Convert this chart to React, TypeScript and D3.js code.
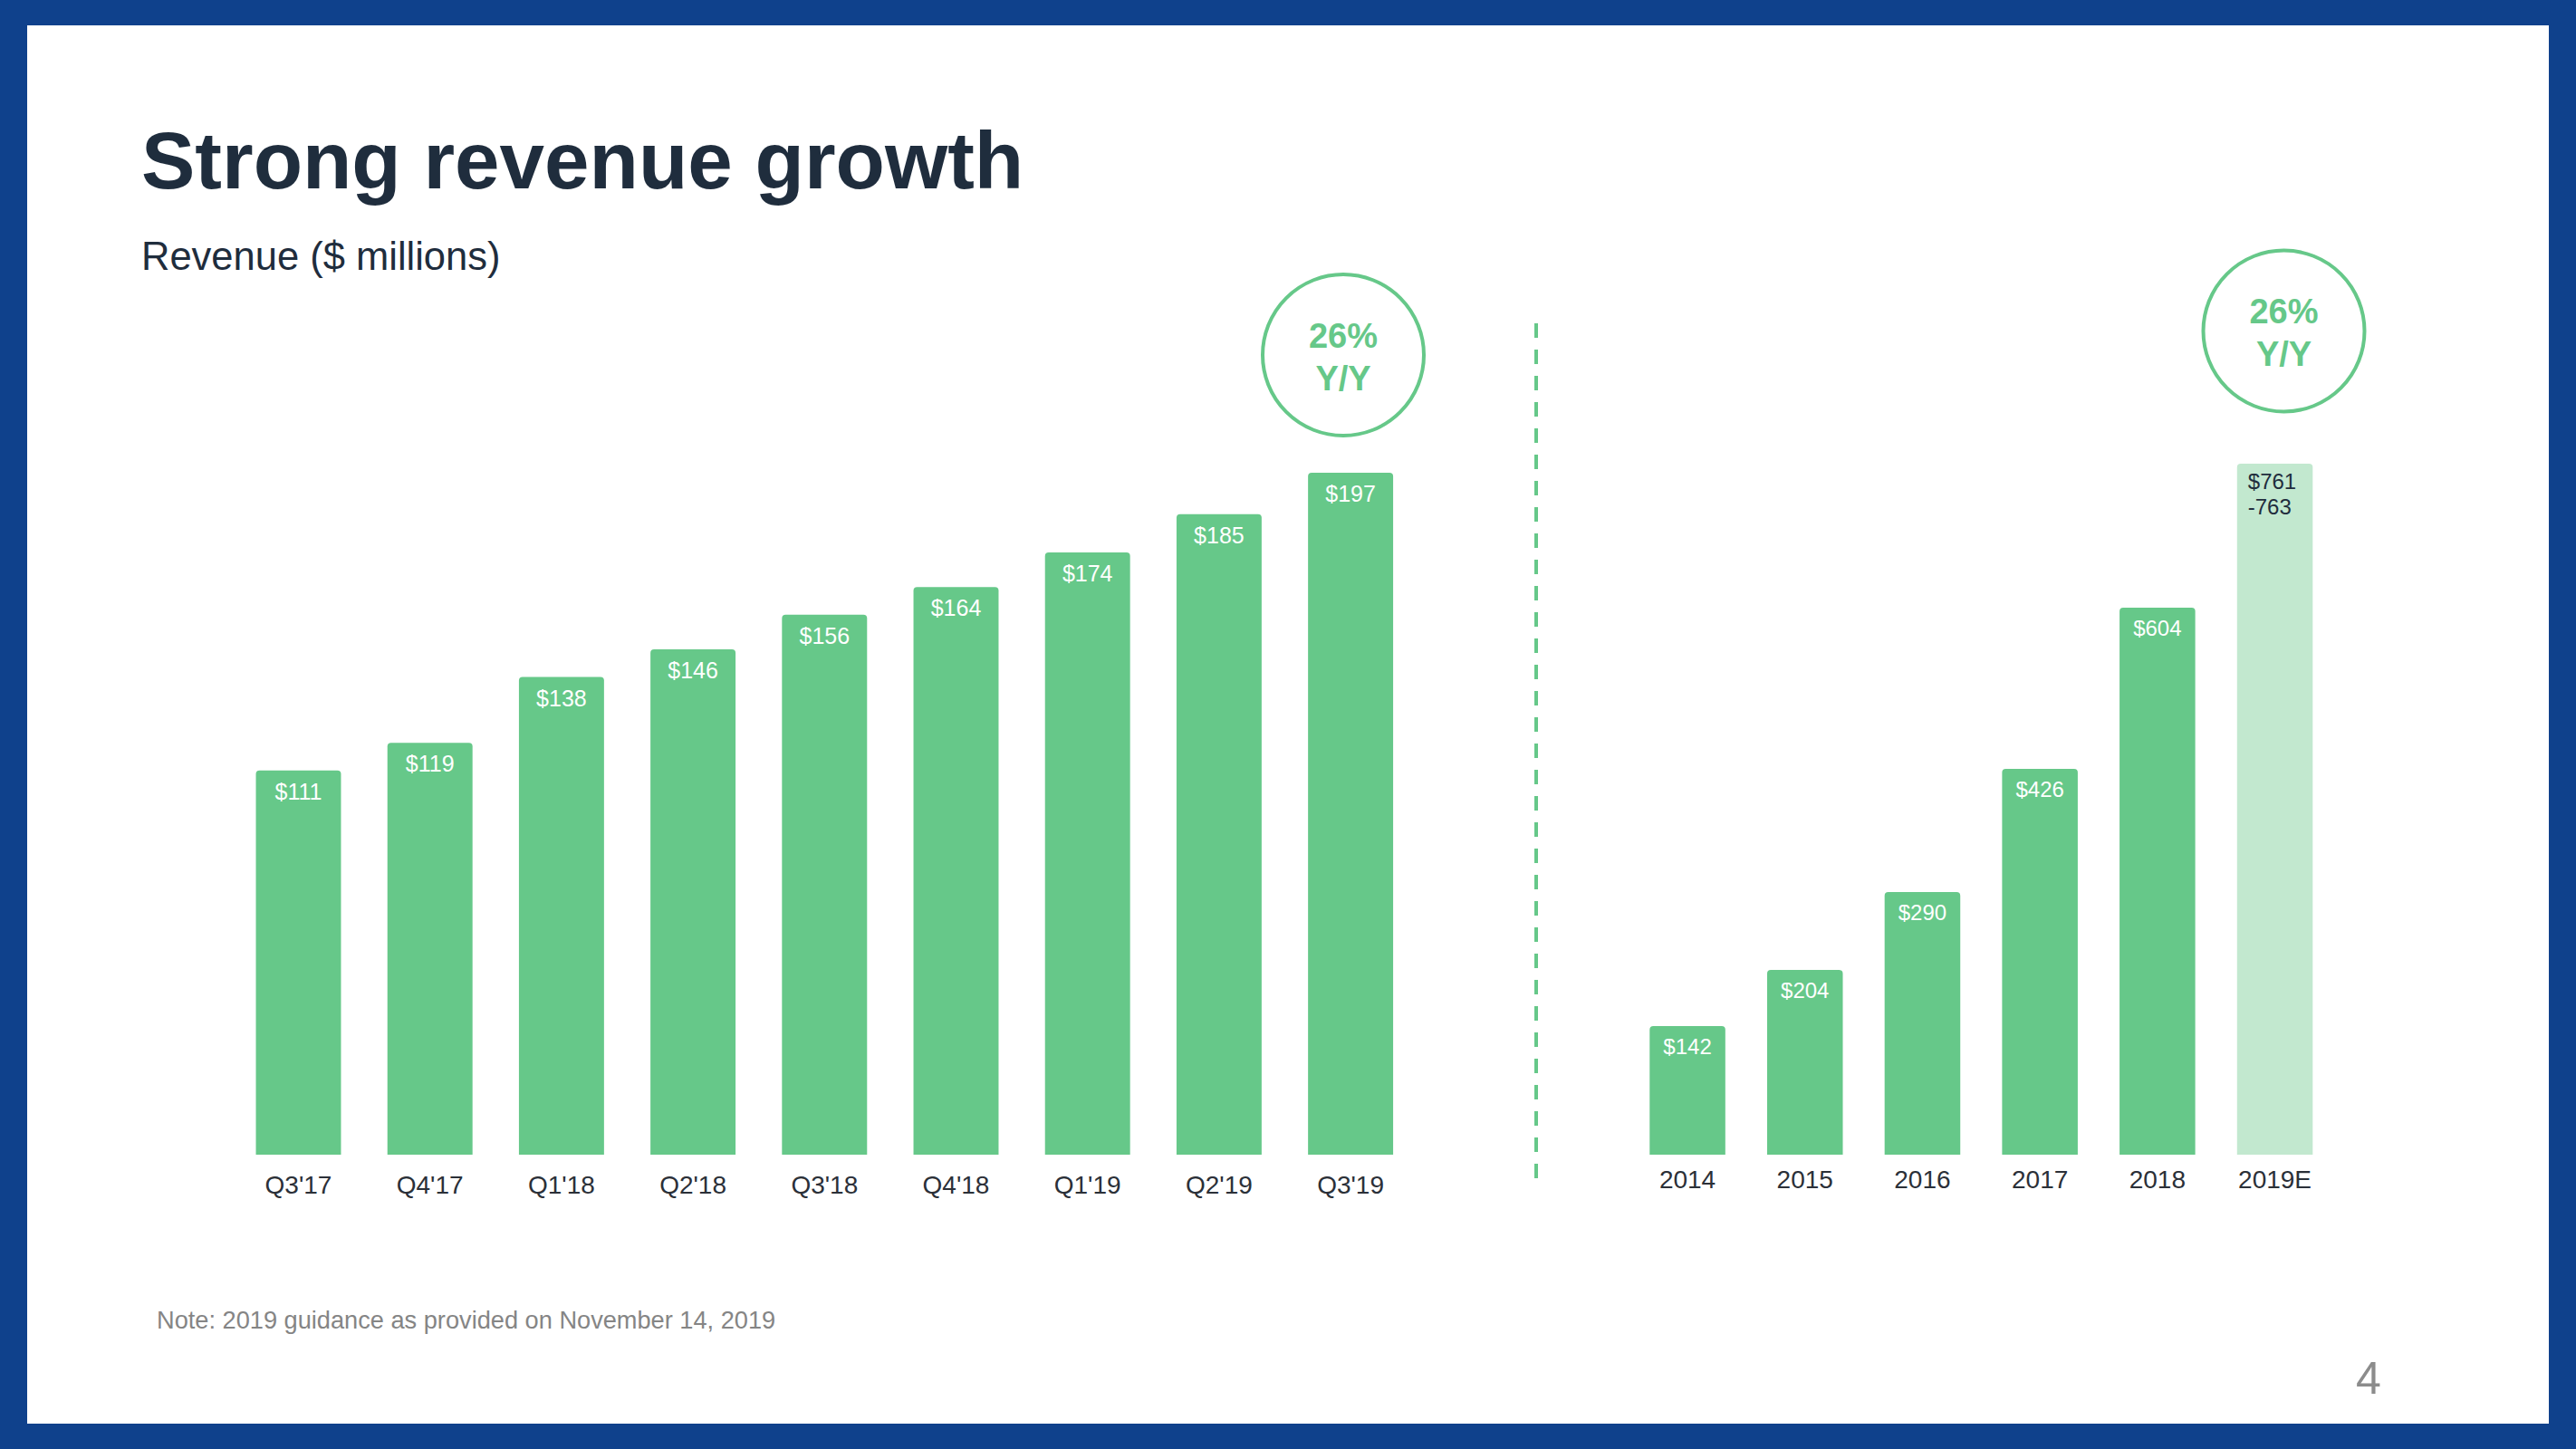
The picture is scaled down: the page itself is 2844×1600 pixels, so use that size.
import React from "react";
import * as d3 from "d3";

const quarters = ["Q3'17", "Q4'17", "Q1'18", "Q2'18", "Q3'18", "Q4'18", "Q1'19", "Q2'19", "Q3'19"];
const quarterRevenue = [111, 119, 138, 146, 156, 164, 174, 185, 197];

const years = ["2014", "2015", "2016", "2017", "2018", "2019E"];
const yearRevenue = [142, 204, 290, 426, 604, 763];
const yearIsEstimate = [false, false, false, false, false, true];
const estimateLabel = ["$761", "-763"];

const growthLabels = ["26%", "Y/Y"];

const W = 2844;
const H = 1600;
const GREEN = "#66c889";
const LIGHT_GREEN = "#c2e8cf";
const NAVY = "#1f2d3d";
const BLUE = "#0f418c";
const FONT = "'Liberation Sans', Arial, Helvetica, sans-serif";

function topRoundedRect(x: number, y: number, w: number, h: number, r: number) {
  const p = d3.path();
  p.moveTo(x, y + h);
  p.lineTo(x, y + r);
  p.quadraticCurveTo(x, y, x + r, y);
  p.lineTo(x + w - r, y);
  p.quadraticCurveTo(x + w, y, x + w, y + r);
  p.lineTo(x + w, y + h);
  p.closePath();
  return p.toString();
}

export default function App() {
  const baseY = 1275;

  const xq = d3.scaleBand<string>().domain(quarters).range([256.9, 1563.7]).paddingInner(0.353).paddingOuter(0.1765);
  const yq = d3.scaleLinear().domain([0, 197]).range([baseY, 522]);

  const xy = d3.scaleBand<string>().domain(years).range([1798.2, 2576.4]).paddingInner(0.356).paddingOuter(0.178);
  const yy = d3.scaleLinear().domain([0, 604]).range([baseY, 671]);

  return (
    <svg width={W} height={H} style={{ position: "fixed", left: 0, top: 0, display: "block" }} fontFamily={FONT}>
      <rect x={0} y={0} width={W} height={H} fill={BLUE} />
      <rect x={30} y={28} width={2784} height={1544} fill="#ffffff" />

      <text x={156} y={208} fontSize={89} fontWeight="bold" fill={NAVY}>Strong revenue growth</text>
      <text x={156} y={298} fontSize={43.5} fill={NAVY}>Revenue ($ millions)</text>

      {quarters.map((q, i) => {
        const x = xq(q)!;
        const bw = xq.bandwidth();
        const y = yq(quarterRevenue[i]);
        return (
          <g key={q}>
            <path d={topRoundedRect(x, y, bw, baseY - y, 4)} fill={GREEN} />
            <text x={x + bw / 2} y={y + 32} fontSize={25} fill="#ffffff" textAnchor="middle">${quarterRevenue[i]}</text>
            <text x={x + bw / 2} y={1318} fontSize={28} fill="#2b3038" textAnchor="middle">{q}</text>
          </g>
        );
      })}

      <line x1={1696} x2={1696} y1={357} y2={1310} stroke={GREEN} strokeWidth={4} strokeDasharray="16 13" />

      {years.map((yr, i) => {
        const x = xy(yr)!;
        const bw = xy.bandwidth();
        const y = yy(yearRevenue[i]);
        const est = yearIsEstimate[i];
        return (
          <g key={yr}>
            <path d={topRoundedRect(x, y, bw, baseY - y, 4)} fill={est ? LIGHT_GREEN : GREEN} />
            {est ? (
              <text x={x + 12} fontSize={24} fill={NAVY}>
                <tspan x={x + 12} y={y + 27.5}>{estimateLabel[0]}</tspan>
                <tspan x={x + 12} y={y + 56}>{estimateLabel[1]}</tspan>
              </text>
            ) : (
              <text x={x + bw / 2} y={y + 31} fontSize={24} fill="#ffffff" textAnchor="middle">${yearRevenue[i]}</text>
            )}
            <text x={x + bw / 2} y={1312} fontSize={28} fill="#2b3038" textAnchor="middle">{yr}</text>
          </g>
        );
      })}

      <g>
        <circle cx={1483} cy={392} r={89} fill="none" stroke={GREEN} strokeWidth={4} />
        <text x={1483} y={384} fontSize={38} fontWeight="bold" fill={GREEN} textAnchor="middle">{growthLabels[0]}</text>
        <text x={1483} y={431} fontSize={38} fontWeight="bold" fill={GREEN} textAnchor="middle">{growthLabels[1]}</text>
      </g>
      <g>
        <circle cx={2521.5} cy={365.5} r={89} fill="none" stroke={GREEN} strokeWidth={4} />
        <text x={2521.5} y={357} fontSize={38} fontWeight="bold" fill={GREEN} textAnchor="middle">{growthLabels[0]}</text>
        <text x={2521.5} y={404} fontSize={38} fontWeight="bold" fill={GREEN} textAnchor="middle">{growthLabels[1]}</text>
      </g>

      <text x={173} y={1467} fontSize={27.2} fill="#858585">Note: 2019 guidance as provided on November 14, 2019</text>
      <text x={2615} y={1539} fontSize={50} fill="#8c8c8c" textAnchor="middle" fontWeight={300}>4</text>
    </svg>
  );
}
